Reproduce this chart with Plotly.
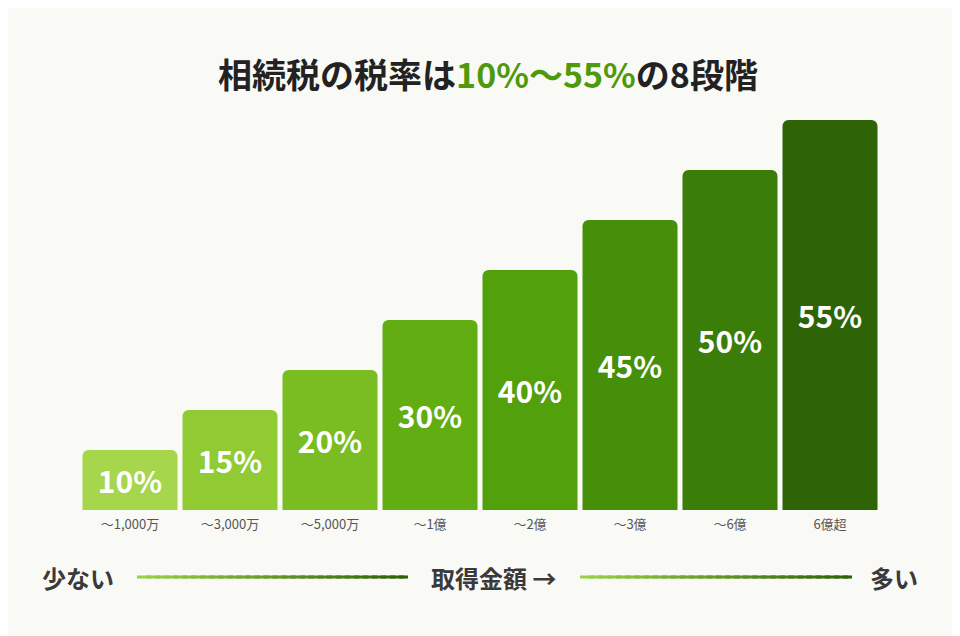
import plotly.graph_objects as go

categories = ["〜1,000万", "〜3,000万", "〜5,000万", "〜1億", "〜2億", "〜3億", "〜6億", "6億超"]
rates = [10, 15, 20, 30, 40, 45, 50, 55]
bar_heights = [60, 100, 140, 190, 240, 290, 340, 390]
colors = ["#a6d64c", "#91cb34", "#7abd22", "#62ad12", "#52a00c", "#458f0a", "#3a7d08", "#2e6406"]

FONT = "Noto Sans CJK JP"
fig = go.Figure(go.Bar(
    x=categories, y=bar_heights,
    marker=dict(color=colors, line=dict(width=0)),
    text=[f"{r}%" for r in rates], textposition="inside", insidetextanchor="middle",
    textfont=dict(family=FONT, size=30, color="white", weight="bold"),
    hoverinfo="skip",
))
fig.update_layout(
    width=960, height=636, paper_bgcolor="#f9f9f6", plot_bgcolor="#f9f9f6",
    margin=dict(l=72, r=88, t=102, b=134),
    bargap=0.05, barcornerradius=6, showlegend=False,
    xaxis=dict(showgrid=False, zeroline=False, showline=False, ticks="",
               tickfont=dict(family=FONT, size=13, color="#555"), ticklabelstandoff=5),
    yaxis=dict(range=[0, 400], visible=False),
    title=dict(text="相続税の税率は<span style='color:#4e9a0c'>10%〜55%</span>の8段階",
               x=0.5, xanchor="center", y=0.893, yanchor="middle",
               font=dict(family=FONT, size=34, color="#222", weight="bold")),
)
def grad(x0, x1, y, n=30):
    c0 = (0x9a, 0xd0, 0x48); c1 = (0x2e, 0x62, 0x06)
    w = (x1 - x0) / n
    for i in range(n):
        t = i / (n - 1)
        c = tuple(round(c0[k] + (c1[k] - c0[k]) * t) for k in range(3))
        fig.add_shape(type="rect", xref="paper", yref="paper",
                      x0=x0 + w * i, x1=min(x1, x0 + w * (i + 1.6)), y0=y - 0.0038, y1=y + 0.0038,
                      fillcolor="rgb(%d,%d,%d)" % c, line=dict(width=0))
def px(x):
    return (x - 80) / 800
ly = (510 - 577) / 400
grad(px(137), px(408), ly)
grad(px(580), px(852), ly)
for txt, x, anc in [("少ない", 40, "left"), ("取得金額 →", 494, "center"), ("多い", 920, "right")]:
    fig.add_annotation(text=txt, xref="paper", yref="paper", x=px(x), y=ly, xanchor=anc,
                       yanchor="middle", showarrow=False,
                       font=dict(family=FONT, size=24, color="#3a3a3a", weight="bold"))
fig.write_html("out.html")
